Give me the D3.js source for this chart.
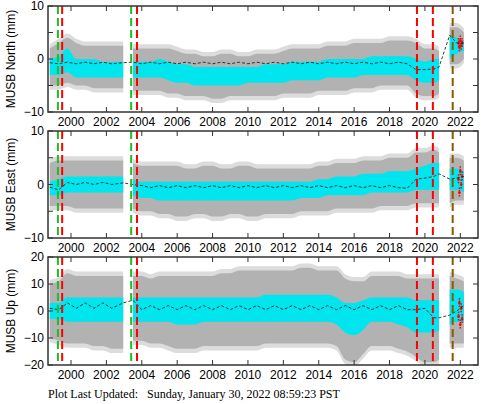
<!DOCTYPE html>
<html>
<head>
<meta charset="utf-8">
<script src="https://cdn.jsdelivr.net/npm/d3@7"></script>
<style>
  body { margin: 0; background: #fff; }
  text { font-family: "Liberation Sans", Arial, sans-serif; }
</style>
</head>
<body>
<div id="chart"></div>
<script>
// Sample times for the three data segments (decimal years)
const segA = [1998.8, 1999.3, 1999.8, 2000.3, 2000.8, 2001.3, 2001.8, 2002.3, 2002.95];
const segB = [2003.5, 2004, 2004.5, 2005, 2005.5, 2006, 2006.5, 2007, 2007.5, 2008, 2008.5, 2009,
  2009.5, 2010, 2010.5, 2011, 2011.5, 2012, 2012.5, 2013, 2013.5, 2014, 2014.5, 2015, 2015.5, 2016,
  2016.5, 2017, 2017.5, 2018, 2018.5, 2019, 2019.5, 2020, 2020.5, 2020.8];
const segC = [2021.4, 2021.8, 2022.2];

// Event lines
const greenLines = [1999.26, 2003.4];
const redLines = [1999.5, 2003.73, 2019.55, 2020.45];
const brownLines = [2021.57];
const xTicks = [2000, 2002, 2004, 2006, 2008, 2010, 2012, 2014, 2016, 2018, 2020, 2022];

// North
const northGreyHi = [2,3,4,3,2.5,2.5,2.5,2.5,2.5, 2,2,2,2,2,1.5, 1,1,0.5,0.5,1,1,0.5,0.5,1,1,1,1.5, 2,2,2,2,2.5,2.5,2.5,3, 3,3,3,3.5,3.5,3.5, 3,2,2,1.5, 6,6,5];
const northGreyLo = [-5,-5,-4.5,-5,-5,-5.5,-5.5,-5.5,-5.5, -6,-6,-6,-6,-6.5,-6.5, -7,-7,-7,-7.5,-7.5,-7,-7,-7,-7,-7,-7,-6.5, -6.5,-6.5,-6.5,-6,-6,-6,-6,-5.5, -5.5,-5.5,-5,-5,-5,-5, -6.5,-7,-7,-6.5, -1,-1,0];
const northCyanHi = [0,0.5,2,0,0,0,-0.5,-0.5,-0.5, -0.5,-0.5,-0.5,0,-0.5,-1, -1,-1.5,-1.5,-1.5,-1.5,-1.5,-1.5,-1.5,-1.5,-1,-1,-1, -0.5,-0.5,-0.5,-0.5,0,0,0,0, 0,0.5,0.5,0.5,0.5,0.5, 0,-0.5,0,0, 4.5,4,3.5];
const northCyanLo = [-3,-3,-2.5,-3.5,-3.5,-3.5,-3.5,-3.5,-3.5, -3.5,-3.5,-3.5,-3.5,-4,-4.5, -4.5,-5,-5,-5,-5,-5,-5,-4.5,-4.5,-4.5,-4.5,-4.5, -4,-4,-4,-4,-3.5,-3.5,-3.5,-3.5, -3,-3,-3,-3,-3,-3, -4,-4.5,-4.5,-4, 0,1,1.5];
const northModel = [-0.7,-0.9,-0.6,-0.9,-0.6,-0.9,-0.6,-0.9,-0.7,
  -0.6,-0.9,-0.6,-0.9,-0.6,-0.9,-0.6,-0.9,
  -0.6,-0.9,-0.6,-0.9,-0.6,-0.9,-0.6,-0.9,
  -0.6,-0.9,-0.6,-0.9,-0.6,-0.9,-0.6,-0.9,
  -0.6,-0.9,-0.6,-0.9,-0.6,-0.9,-0.6,-0.9,
  -2,-2,-1.9,-1.5, 4.5,3,3];
const northRedT = [2021.9, 2021.95, 2022.0, 2022.05, 2022.1];
const northRed = [3, 2.2, 3.5, 2.5, 3];

// East
const eastGreyHi = [4,4.5,4.5,4.5,4.5,4.5,4.5,4.5,4.5, 4,3.5,3.5,3.5,3.5,3.5, 3,3,3.5,3.5,3,3,3.5,3.5,3,3,3,3, 3,3,3,3.5,3.5,4,4,4, 4.5,4.5,4.5,5,5,5, 6,6,6.5,6, 5,5,4.5];
const eastGreyLo = [-4,-4,-4,-4.5,-4.5,-4.5,-4.5,-4.5,-4.5, -4.5,-5,-5,-5.5,-5.5,-6, -6,-5.5,-5.5,-6,-6,-5.5,-5.5,-6,-6,-5.5,-5.5,-5.5, -5.5,-5,-5,-5,-5,-4.5,-4.5,-4.5, -4.5,-4.5,-4,-4,-4,-4, -3.5,-3.5,-3.5,-3.5, -3.5,-3,-3];
const eastCyanHi = [0.5,1,1.5,1.5,1.5,1.5,1.5,1.5,1.5, 1,0.5,0.5,0.5,0.5,0.5, 0.5,0.5,0.5,0.5,0.5,0.5,0.5,0.5,0.5,0.5,0.5,0.5, 0.5,0.5,0.5,1,1,1.5,1.5,1.5, 2,2,2,2.5,2.5,2.5, 3,3.5,4,4, 3,3,2.5];
const eastCyanLo = [-2,-2,-1.5,-1.5,-1.5,-1.5,-1.5,-1.5,-1.5, -2,-2.5,-2.5,-3,-3,-3, -3,-3,-3,-3,-3,-3,-3,-3,-3,-3,-3,-3, -3,-2.5,-2.5,-2.5,-2,-2,-2,-2, -2,-1.5,-1.5,-1.5,-1.5,-1.5, -1,-1,-1,-1, -1,-1,-1.5];
const eastModel = [-0.5,-1,0.4,0,0.4,0,0.4,0,0.3,
  0,-0.2,-0.6,-0.2,-0.6,-0.2,-0.6,-0.2,
  -0.6,-0.2,-0.6,-0.2,-0.6,-0.2,-0.6,-0.2,
  -0.6,-0.2,-0.6,-0.2,-0.6,-0.2,-0.6,-0.2,
  -0.6,-0.2,-0.6,-0.2,-0.6,-0.2,-0.6,-0.7,
  1,1.2,1.5,2, 1,1.2,1.5];
const eastRedT = [2021.9, 2021.95, 2022.0, 2022.05, 2022.1];
const eastRed = [1, -1.5, 2.5, 0, 1.5];

// Up
const upGreyHi = [10,11,14,13,13,13,13,13,13, 13,13,12,13,13,13, 13,13,13,13,14,14,15,15,15,15,15,15, 15,16,16,15,15,15,12,11, 11,13,13,13,13,12, 12,12,12,12, 13,12,11];
const upGreyLo = [-10,-11,-12,-12,-12,-13,-13,-14,-14, -11,-11,-12,-12,-13,-14, -14,-14,-13,-13,-13,-13,-13,-13,-13,-12,-12,-12, -12,-12,-12,-12,-12,-13,-18,-19, -16,-13,-13,-13,-14,-15, -17,-19,-19,-18, -12,-12,-12];
const upCyanHi = [3,3,5,5,5,5,5,5,5, 5,5,5,5,5,5, 5,5,5,5,5,5,5,5,5,6,6,6, 6,6,6,6,6,5,3,3, 4,5,5,5,5,5, 4,4,4,4, 8,8,7];
const upCyanLo = [-3,-3,-4,-4,-4,-4,-4,-4,-4, -4,-4,-4,-4,-4,-5, -5,-5,-4,-4,-4,-4,-4,-4,-4,-4,-4,-4, -4,-4,-4,-4,-4,-5,-8,-9, -7,-4,-4,-4,-5,-6, -8,-8,-8,-7, -5,-4,-4];
const upModel = [1,0.5,3,1,3,1,3,1,3,
  4,0.5,2,0.5,2,0.5,2,0.5,
  2,0.5,2,0.5,2,0.5,2,0.5,
  2,0.5,2,0.5,2,0.5,2,0.5,
  2,0.5,2,0.5,2,0.5,2,0.5,
  0.5,1,-2.5,-2.5, -1.5,0,2];
const upRedT = [2021.9, 2021.95, 2022.0, 2022.05, 2022.1];
const upRed = [-2, 3, -5, 1, -3];

const panels = [
  { label: 'MUSB North (mm)', top: 6, bottom: 112, dom: [-10, 10], ticks: [-10, 0, 10], minor: [-5, 5], halo: 0.8,
    gHi: northGreyHi, gLo: northGreyLo, cHi: northCyanHi, cLo: northCyanLo, model: northModel, redT: northRedT, red: northRed },
  { label: 'MUSB East (mm)', top: 131, bottom: 238, dom: [-10, 10], ticks: [-10, 0, 10], minor: [-5, 5], halo: 0.8,
    gHi: eastGreyHi, gLo: eastGreyLo, cHi: eastCyanHi, cLo: eastCyanLo, model: eastModel, redT: eastRedT, red: eastRed },
  { label: 'MUSB Up (mm)', top: 257, bottom: 365, dom: [-20, 20], ticks: [-20, -10, 0, 10, 20], minor: [], halo: 1.6,
    gHi: upGreyHi, gLo: upGreyLo, cHi: upCyanHi, cLo: upCyanLo, model: upModel, redT: upRedT, red: upRed }
];

const width = 481, height = 404;
const left = 48, right = 478;
const times = segA.concat(segB, segC);
const segOf = times.map((t, i) => i < segA.length ? 0 : (i < segA.length + segB.length ? 1 : 2));

const svg = d3.select('#chart').append('svg')
  .attr('width', width)
  .attr('height', height);

const x = d3.scaleLinear().domain([1998.7, 2023.0]).range([left, right]);

panels.forEach((p, pi) => {
  const y = d3.scaleLinear().domain(p.dom).range([p.bottom, p.top]);
  const g = svg.append('g');
  const unit = Math.abs(y(0) - y(1));

  const clipId = 'clip' + pi;
  g.append('clipPath').attr('id', clipId).append('rect')
    .attr('x', left).attr('y', p.top).attr('width', right - left).attr('height', p.bottom - p.top);
  const inner = g.append('g').attr('clip-path', `url(#${clipId})`);

  const rows = times.map((t, i) => ({ t, s: segOf[i], gHi: p.gHi[i], gLo: p.gLo[i], cHi: p.cHi[i], cLo: p.cLo[i], m: p.model[i] }));

  [0, 1, 2].forEach(s => {
    const seg = rows.filter(r => r.s === s);
    const curve = d3.curveMonotoneX;
    // pale outer fringe of the error bars
    inner.append('path').datum(seg)
      .attr('fill', '#dcdcdc')
      .attr('d', d3.area().curve(curve).x(d => x(d.t))
        .y0(d => y(d.gLo) + p.halo * unit).y1(d => y(d.gHi) - p.halo * unit));
    inner.append('path').datum(seg)
      .attr('fill', '#b2b2b2')
      .attr('d', d3.area().curve(curve).x(d => x(d.t)).y0(d => y(d.gLo)).y1(d => y(d.gHi)));
    inner.append('path').datum(seg)
      .attr('fill', '#00e5ee')
      .attr('d', d3.area().curve(curve).x(d => x(d.t)).y0(d => y(d.cLo)).y1(d => y(d.cHi)));
  });

  // red recent points
  const reds = p.redT.map((t, i) => ({ t, v: p.red[i] }));
  inner.selectAll(null).data(reds).enter().append('line')
    .attr('x1', d => x(d.t)).attr('x2', d => x(d.t))
    .attr('y1', d => y(d.v) - 5).attr('y2', d => y(d.v) + 5)
    .attr('stroke', '#ff0000').attr('stroke-width', 1.5).attr('stroke-dasharray', '1.5,1');
  inner.selectAll(null).data(reds).enter().append('circle')
    .attr('cx', d => x(d.t)).attr('cy', d => y(d.v)).attr('r', 1.3).attr('fill', '#ff0000');

  // model line
  inner.append('path').datum(rows)
    .attr('fill', 'none').attr('stroke', '#222').attr('stroke-width', 0.9)
    .attr('stroke-dasharray', '3,2')
    .attr('d', d3.line().x(d => x(d.t)).y(d => y(d.m)));

  // event lines
  const ev = (list, color) => inner.selectAll(null).data(list).enter().append('line')
    .attr('x1', d => x(d)).attr('x2', d => x(d))
    .attr('y1', p.top).attr('y2', p.bottom)
    .attr('stroke', color).attr('stroke-width', 2).attr('stroke-dasharray', '8,4');
  ev(greenLines, '#22bb22');
  ev(redLines, '#ff0000');
  ev(brownLines, '#8a5a00');

  // frame
  g.append('rect').attr('x', left).attr('y', p.top)
    .attr('width', right - left).attr('height', p.bottom - p.top)
    .attr('fill', 'none').attr('stroke', '#333').attr('stroke-width', 1.5);

  // y ticks inward on both sides
  const yt = p.ticks.concat(p.minor);
  g.selectAll(null).data(yt).enter().append('line')
    .attr('x1', left).attr('x2', left + 5).attr('y1', d => y(d)).attr('y2', d => y(d))
    .attr('stroke', '#333');
  g.selectAll(null).data(yt).enter().append('line')
    .attr('x1', right - 5).attr('x2', right).attr('y1', d => y(d)).attr('y2', d => y(d))
    .attr('stroke', '#333');
  g.selectAll(null).data(p.ticks).enter().append('text')
    .attr('x', left - 4).attr('y', d => y(d)).attr('dy', '0.35em')
    .attr('text-anchor', 'end').style('font-size', '12px').text(d => String(d).replace('-', '\u2212'));

  // x ticks inward top and bottom
  g.selectAll(null).data(xTicks).enter().append('line')
    .attr('x1', d => x(d)).attr('x2', d => x(d)).attr('y1', p.bottom).attr('y2', p.bottom - 5)
    .attr('stroke', '#333');
  g.selectAll(null).data(xTicks).enter().append('line')
    .attr('x1', d => x(d)).attr('x2', d => x(d)).attr('y1', p.top).attr('y2', p.top + 5)
    .attr('stroke', '#333');
  g.selectAll(null).data(xTicks).enter().append('text')
    .attr('x', d => x(d)).attr('y', p.bottom + 14)
    .attr('text-anchor', 'middle').style('font-size', '12px').text(d => d);

  // y label
  g.append('text')
    .attr('transform', `translate(15,${(p.top + p.bottom) / 2}) rotate(-90)`)
    .attr('text-anchor', 'middle').style('font-size', '12px').text(p.label);
});

svg.append('text')
  .attr('x', 48).attr('y', 398)
  .style('font-family', '"Liberation Serif", "Times New Roman", serif')
  .style('font-size', '12px')
  .attr('xml:space', 'preserve')
  .text('Plot Last Updated:   Sunday, January 30, 2022 08:59:23 PST');
</script>
</body>
</html>
